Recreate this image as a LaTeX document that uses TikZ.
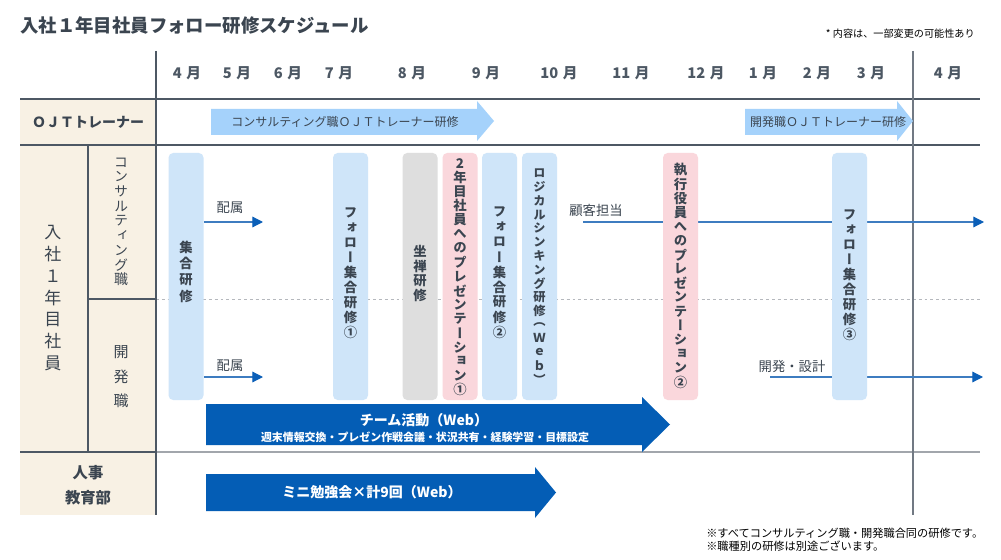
\documentclass[tikz,border=0pt]{standalone}
\usepackage{fontspec}
\setmainfont{Noto Sans CJK JP}
\newfontfamily\jpv[RawFeature={+vert}]{Noto Sans CJK JP}
\usetikzlibrary{arrows.meta}
\definecolor{ink}{HTML}{3B4550}
\definecolor{cream}{HTML}{F8F1E4}
\definecolor{gridc}{HTML}{4D5864}
\definecolor{gridl}{HTML}{A2A6AC}
\definecolor{lblue}{HTML}{CFE5F9}
\definecolor{pinkc}{HTML}{FAD7DC}
\definecolor{grayc}{HTML}{DEDEDE}
\definecolor{ojtc}{HTML}{A5D2FB}
\definecolor{deep}{HTML}{045DB5}
\definecolor{thinl}{HTML}{3D7CC0}
\definecolor{headc}{HTML}{0B5FB8}
\makeatletter
\newcommand\vstack[2]{\vbox{\offinterlineskip\@tfor\vs@c:=#2\do{\hbox to 1.2em{\hss\vbox to #1{\vss\hbox{\vs@c}\vss}\hss}}}}
\makeatother
\tikzset{
  txt/.style={text=ink, inner sep=0pt},
  month/.style={txt, text=gridc, font=\fontsize{11}{13}\selectfont\bfseries},
  vt/.style={txt, font=\jpv\bfseries\fontsize{10}{12}\selectfont},
  bx/.style={rounded corners=3.5pt, minimum width=26.25pt, minimum height=185.25pt, inner sep=0pt},
  gline/.style={draw=gridc, line width=0.8pt},
  thinarrow/.style={draw=thinl, line width=0.9pt, -{Triangle[length=8pt,width=8pt,color=headc]}},
  small/.style={txt, font=\fontsize{10}{12}\selectfont},
  whitebig/.style={inner sep=0pt, text=white, font=\fontsize{10.5}{12}\selectfont\bfseries},
}
\begin{document}
\begin{tikzpicture}[x=0.75pt,y=-0.75pt]
\useasboundingbox (0,0) rectangle (1001,560);
\fill[white] (0,0) rectangle (1001,560);
% title and note
\node[txt, anchor=west, font=\fontsize{13.8}{16}\selectfont\bfseries] (title) at (20,26) {入社１年目社員フォロー研修スケジュール};
\node[txt, anchor=east, text=black, font=\fontsize{7.6}{9}\selectfont] (note) at (975,34) {* 内容は、一部変更の可能性あり};
% left label background
\fill[cream] (20,99) rectangle (156,515);
% grid lines
\draw[gridc, line width=1.4pt] (20,99) -- (980,99);
\draw[gline, line width=1.1pt] (20,145) -- (980,145);
\draw[gline] (20,452) -- (156,452);
\draw[gridl, line width=1.5pt] (156,452) -- (980,452);
\draw[gline] (88,145) -- (88,452);
\draw[gline] (88,299) -- (156,299);
\draw[gridl!80, line width=0.6pt, dash pattern=on 2.2pt off 2.2pt] (156,299) -- (980,299);
\draw[gline] (156,51) -- (156,515);
\draw[draw=gridc!80, line width=0.9pt] (913,51) -- (913,515);
% months
\foreach \x/\m [count=\i] in {187/4,237/5,288/6,339/7,412/8,486/9,559/10,631/11,706/12,763/1,817/2,871/3,948/4}
  \node[month] (m\i) at (\x,73) {\m\kern3.5pt 月};
% left labels
\node[txt, font=\fontsize{10.5}{12}\selectfont\bfseries] (ojt) at (88,122) {ＯＪＴトレーナー};
\node[txt, font=\jpv\fontsize{12.75}{14}\selectfont] (nyusha) at (53,298) {\vstack{16.3pt}{入社１年目社員}};
\node[txt, font=\jpv\fontsize{10.5}{12}\selectfont] (consul) at (121,221) {\vstack{11pt}{コンサルティング職}};
\node[txt, font=\jpv\fontsize{11.25}{12}\selectfont] (kaihatsu) at (121,376.5) {\vstack{18.4pt}{開発職}};
\node[txt, font=\fontsize{11.5}{13}\selectfont\bfseries] (jinji) at (88,473) {人事};
\node[txt, font=\fontsize{11.5}{13}\selectfont\bfseries] (kyoiku) at (88,498) {教育部};
% OJT arrows
\fill[ojtc] (211,109) -- (477,109) -- (477,101) -- (494,121) -- (477,141) -- (477,135) -- (211,135) -- cycle;
\node[txt, font=\fontsize{9}{11}\selectfont] (ojt1) at (345,122) {コンサルティング職ＯＪＴトレーナー研修};
\fill[ojtc] (745,109) -- (897,109) -- (897,101) -- (913,121) -- (897,141) -- (897,135) -- (745,135) -- cycle;
\node[txt, font=\fontsize{9}{11}\selectfont] (ojt2) at (828,122) {開発職ＯＪＴトレーナー研修};
% long thin arrows (behind boxes)
\coordinate (k1) at (583,222); \coordinate (k2) at (984,222);
\draw[thinarrow] (k1) -- (k2);
\node[small] (kokyaku) at (596,210) {顧客担当};
\coordinate (s1) at (770,377); \coordinate (s2) at (983,377);
\draw[thinarrow] (s1) -- (s2);
\node[small] (sekkei) at (792,366) {開発・設計};
% vertical boxes
\node[bx, fill=lblue] (b1) at (186,276.5) {};
\node[vt] (t1) at (186,272) {\vstack{12.2pt}{集合研修}};
\node[bx, fill=lblue] (b2) at (350.5,276.5) {};
\node[vt] (t2) at (350.5,272.5) {\vstack{11.25pt}{フォロー集合研修①}};
\node[bx, fill=grayc] (b3) at (420,276.5) {};
\node[vt] (t3) at (420,273.5) {\vstack{11pt}{坐禅研修}};
\node[bx, fill=pinkc] (b4) at (460,276.5) {};
\node[vt] (t4) at (460,276.5) {\vstack{10.6pt}{2年目社員へのプレゼンテーション①}};
\node[bx, fill=lblue] (b5) at (499.5,276.5) {};
\node[vt] (t5) at (499.5,272) {\vstack{11.25pt}{フォロー集合研修②}};
\node[bx, fill=lblue] (b6) at (539.5,276.5) {};
\node[vt, font=\jpv\bfseries\fontsize{9.2}{11}\selectfont] (t6) at (539.5,276.5) {\vstack{10.3pt}{ロジカルシンキング研修（Ｗｅｂ）}};
\node[bx, fill=pinkc] (b7) at (680.5,276.5) {};
\node[vt] (t7) at (680.5,276) {\vstack{10.6pt}{執行役員へのプレゼンテーション②}};
\node[bx, fill=lblue] (b8) at (849.5,276.5) {};
\node[vt] (t8) at (849.5,274.5) {\vstack{11.25pt}{フォロー集合研修③}};
% short arrows 配属
\coordinate (h1) at (263,222); \coordinate (h2) at (263,377);
\draw[thinarrow] (b1.east |- h1) -- (h1);
\draw[thinarrow] (b1.east |- h2) -- (h2);
\node[small] (haizoku1) at (230,208) {配属};
\node[small] (haizoku2) at (230,366) {配属};
% big arrows
\fill[deep] (206,404) -- (642,404) -- (642,397) -- (670,424.5) -- (642,452) -- (642,445) -- (206,445) -- cycle;
\node[whitebig] (team) at (424,420) {チーム活動（Web）};
\node[inner sep=0pt, text=white, font=\fontsize{8.2}{10}\selectfont\bfseries] (team2) at (425,437) {週末情報交換・プレゼン作戦会議・状況共有・経験学習・目標設定};
\fill[deep] (206,474) -- (535,474) -- (535,467) -- (556,492.5) -- (535,518) -- (535,511) -- (206,511) -- cycle;
\node[whitebig] (mini) at (372,492) {ミニ勉強会×計9回（Web）};
% bottom notes
\node[txt, text=black, anchor=west, font=\fontsize{8.4}{10}\selectfont] (n1) at (706,533) {※すべてコンサルティング職・開発職合同の研修です。};
\node[txt, text=black, anchor=west, font=\fontsize{8.4}{10}\selectfont] (n2) at (706,546) {※職種別の研修は別途ございます。};
\end{tikzpicture}
\end{document}
